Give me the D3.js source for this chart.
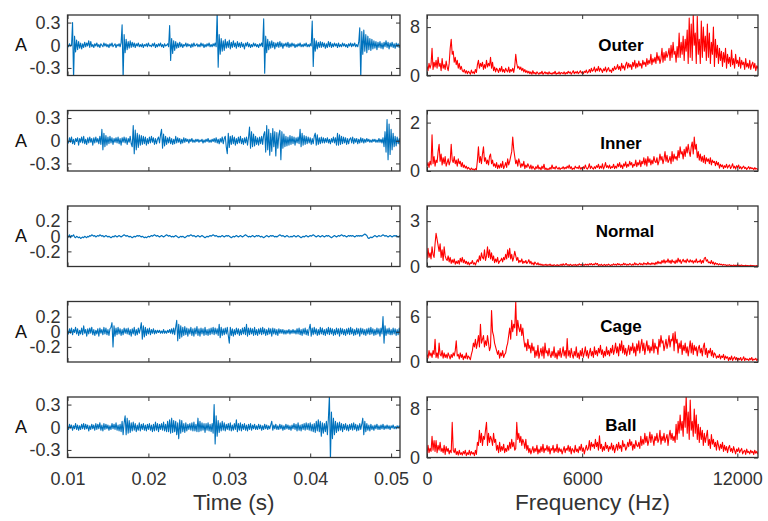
<!DOCTYPE html>
<html><head><meta charset="utf-8">
<script src="https://cdn.jsdelivr.net/npm/d3@7"></script>
<style>
body{margin:0;background:#fff}
svg{display:block;font-family:"Liberation Sans",Arial,Helvetica,sans-serif}
</style></head><body>
<svg id="fig" width="768" height="521"></svg>
<script>
// Bearing vibration: waveform (left) and amplitude spectrum (right) per condition
const conditions = ["Outer", "Inner", "Normal", "Cage", "Ball"];
const t0 = 0.01, dt = 0.000125;  // waveform sample start / spacing (s)
const df = 39;                   // spectrum bin spacing (Hz)

// waveforms, in units of 0.01
const outerWave = [1,-2,2,-1,0,30,-45,12,-9,7, -6,5,-4,3,-5,2,-3,4,-2,3, -1,6,-3,5,-2,1,-3,2,-1,3,
 -2,1,-3,2,0,-2,3,-1,2,-2, 1,-3,2,-1,3,-2,0,2,-3,1, -1,2,-2,3,27,-45,14,-10,8,-6, 5,-4,6,-3,4,-2,3,-3,2,-1,
 3,-2,1,-2,2,-3,1,-1,2,-2, 3,-1,0,-2,2,-1,3,-3,1,-2, 2,-1,3,-2,1,-3,2,-1,0,2, -2,26,-20,9,-11,6,-7,5,-4,3,
 -3,4,-2,2,-3,1,-1,3,-2,2, -1,1,-3,2,-2,3,-1,0,2,-2, 1,-2,3,-1,2,-3,1,-2,2,-1, 3,-2,1,-2,2,-1,3,-2,44,-29,
 14,-12,9,-8,6,-7,8,-4,5,-3, 7,-5,4,-3,6,-2,3,-4,5,-2, 3,-3,4,-2,2,-5,3,-1,4,-2, 2,-3,1,-2,3,-1,2,-2,1,-3,
 2,-1,3,-2,35,-37,12,-10,8,-6, 5,-4,6,-3,4,-5,3,-2,4,-3, 5,-2,3,-4,2,-1,3,-2,4,-3, 2,-2,3,-1,2,-3,1,-2,2,-1,
 3,-2,1,-2,2,-1,3,-2,1,-2, 2,-1,32,-28,9,-8,6,-5,4,-3, 5,-3,4,-2,3,-4,2,-3,5,-2, 4,-3,2,-2,3,-1,2,-3,3,-2,
 1,-2,3,-1,2,-2,1,-3,2,-1, 3,-2,2,-1,3,-2,1,-2,4,23, -45,18,-12,20,-8,14,-10,12,-6,9, -7,8,-5,6,-4,5,-6,4,-3,5,
 -4,3,-5,4,-2,6,-3,4,-5,3, -2,4,-3,2,-4,3,-2,2,-3,1, 2,-2,1,-1,0];
const innerWave = [0,-3,4,-2,5,-4,2,-5,3,-1, 4,-6,3,-2,5,-3,6,-4,2,-5, 4,-3,5,-2,3,-6,4,-3,5,-2,
 3,-4,6,-5,15,-12,10,-8,7,-6, 5,-4,6,-3,4,-5,3,-2,4,-3, 5,-4,3,-6,4,-2,5,-3,4,-5, 3,-2,6,-4,-8,20,-17,14,-12,10,
 -9,8,-6,7,-5,6,-4,5,-6,3, -4,5,-3,6,-2,4,-5,3,-4,2, 5,-3,8,15,-10,9,-7,6,-5,4, -3,5,-4,3,-5,2,-4,6,-3,4,
 -2,3,-4,2,-3,4,-2,3,-1,2, -3,2,-1,3,-2,1,-2,2,-1,2, -2,1,-1,2,-3,1,-2,2,-1,3, -2,1,-2,2,-1,3,-2,4,-3,2,
 -4,3,-2,5,-4,3,6,-8,-17,10, -9,6,-5,7,-4,5,-6,3,-4,5, -3,6,-4,3,-5,4,-3,5,-6,4, 18,-10,12,-8,9,-7,6,-5,4,-6,
 5,-4,6,-5,8,12,-15,20,-12,15, -19,10,-14,16,-8,12,-20,11,-10,8, 14,-25,12,-10,9,-8,6,-7,5,-6, 7,-5,6,-4,5,-6,4,-3,5,-4,
 15,-8,10,-6,7,-5,6,-4,5,-3, 4,-5,3,-4,6,10,-6,8,-5,4, -4,5,-3,4,-3,3,-2,4,-3,2, -4,3,-2,5,-3,4,-6,10,-6,8,
 -5,6,-4,5,-3,4,-5,3,-4,2, 4,-3,5,-4,3,-2,3,-4,2,-3, 4,-2,3,-3,2,-2,3,-1,2,-2, 1,-2,2,-1,2,-2,1,-2,3,-2,
 2,-3,4,-8,12,-15,28,-25,22,-18, 15,-12,10,-8,6,-7,5,-4,3,-5, 4,-3,2,-2,1];
const normalWave = [1,-1,2,-2,1,0,2,-1,-2,0, -1,-2,-1,-3,-2,-1,-2,0,-1,-2, 0,-1,1,0,2,1,0,1,-1,0,
 1,0,2,1,0,1,-1,0,1,0, -1,0,-1,-2,-1,0,-1,1,0,-1, 0,1,0,-1,0,1,2,1,0,1, 0,-1,0,-1,-2,-1,0,-1,0,1,
 0,1,0,-1,0,-1,-2,-1,-2,-1, 0,-1,0,1,0,1,2,1,0,1, 0,-1,0,1,0,-1,0,1,2,1, 0,1,0,-1,0,-1,0,1,0,-1,
 -2,-1,0,-1,0,-1,-2,-1,0,1, 0,1,2,1,0,1,0,-1,0,1, 0,-1,0,1,0,-1,-2,-1,0,-1, 0,1,0,1,2,1,0,1,0,-1,
 0,-1,0,1,0,-1,0,1,0,1, 0,-1,-2,-1,0,-1,0,1,0,-1, 0,1,0,-1,0,1,2,1,0,-1, 0,-1,0,1,0,-1,0,1,0,1,
 0,-1,0,-1,-2,-1,0,1,0,-1, 0,1,0,1,0,-1,0,-1,0,1, 2,1,0,1,0,-1,0,1,0,-1, -1,0,-1,0,1,0,-1,0,1,0,
 -1,-2,-1,0,-1,0,1,0,-1,0, 1,0,1,2,1,0,-1,0,1,0, -1,0,1,0,-1,0,1,0,1,0, -1,-2,-1,0,1,0,-1,0,1,0,
 1,2,1,0,1,0,-1,0,1,0, 1,0,1,0,-1,0,1,0,1,0, 1,0,1,2,3,2,1,-2,-3,-2, -1,-2,-1,0,1,0,-1,0,1,0,
 0,1,2,1,0,1,0,-1,0,1, 0,-1,0,1,0,1,0,-1,0,1, 0,1,0,-1,0];
const cageWave = [2,-3,4,-2,5,-4,3,-1,6,-3, 4,-5,2,-3,5,-4,8,-2,3,-6, 4,-3,5,-2,6,-4,3,-5,2,-3,
 4,-6,5,-2,3,-4,6,-3,5,-4, 3,-5,4,6,12,-20,8,-6,5,-4, 6,-3,4,-5,3,-4,5,-2,4,-3, 5,-4,3,-6,4,-3,6,-5,3,-4,
 5,-2,4,12,-10,8,-7,6,-5,4, -3,5,-4,3,-2,4,-3,2,-2,2, -1,2,-2,1,-2,3,-2,1,-2,2, -1,3,-2,4,-3,5,-4,6,15,-12,
 10,-9,8,-7,6,-5,7,-4,5,-6, 4,-3,6,-5,4,-6,5,-3,7,-5, 4,-6,5,-3,4,-5,6,-4,3,-5, 4,-4,5,-3,6,-4,5,-3,4,-5,
 10,-8,6,-5,4,-4,5,-3,6,-5, -15,6,-5,4,-6,3,-4,5,-3,4, -5,3,-4,5,-3,6,-4,10,-6,5, -4,5,-3,4,-5,6,-4,3,-5,4,
 -3,5,-4,6,-3,4,-5,3,-4,5, -3,4,-6,5,-3,4,-4,3,-5,4, -2,3,-2,3,-3,2,-3,2,-2,3, -3,2,-2,3,-2,2,-3,4,-3,5,
 -4,3,-5,4,-3,5,-4,3,-5,4, 10,-6,5,-4,6,-3,4,-5,3,-4, 6,-3,5,-4,3,-5,4,-3,6,-4, 5,-3,4,-5,3,-4,5,-3,4,-6,
 5,-3,4,-4,3,-5,4,-3,5,-4, 6,-3,4,-5,3,-4,5,-3,4,-6, 5,-3,4,-4,3,-5,4,-3,5,-4, 6,-3,4,-5,3,-4,5,-3,4,-6,
 5,-3,20,-15,8,-5,4,-3,5,-4, 3,-4,5,-3,4,-5,3,-4,5,-3, 4,-3,2,-2,1];
const ballWave = [2,-3,4,-1,3,-4,2,-2,5,-3, 3,-4,2,-3,4,-2,5,-3,4,-2, 3,-5,2,-3,4,-2,3,-4,5,-3,
 4,-2,6,-4,3,-5,5,-3,4,-2, 3,-4,2,-3,5,-2,4,-3,6,-4, 3,-5,4,-6,8,-10,6,15,-10,12, -8,9,-7,6,-5,7,-4,5,-6,3,
 -4,6,-5,4,-3,5,-4,3,-5,4, -3,5,-4,3,-6,4,-5,7,-4,5, -6,4,-3,5,-4,7,-5,4,-6,8, -6,10,-8,12,-7,9,-6,8,-10,6,
 -15,10,-8,9,-6,5,-7,6,-5,4, -3,5,-4,6,-5,7,-5,4,-6,12, -6,8,-5,6,-4,5,-7,5,-4,6, -5,4,-6,5,-8,30,-22,15,-12,9,
 -7,6,-5,8,-4,6,-5,4,-3,5, -4,6,-5,3,-4,5,-3,10,-6,5, -4,6,-5,4,-3,5,-4,3,-5,4, -3,5,-4,3,-2,4,-3,2,-3,4,
 -2,3,-4,2,-3,4,-2,3,-3,2, -2,3,8,-4,3,-2,4,-3,2,-3, 4,-2,3,-4,2,-3,4,-2,3,-3, 2,-4,3,-2,5,-3,4,-5,6,-4,
 3,-5,4,-3,5,-4,6,-3,5,-4, 6,-5,4,-6,5,-7,8,-5,10,-6, 8,-12,6,-8,5,-6,8,-10,12,42, -45,20,-15,12,-10,8,-7,6,-5,7,
 -4,5,-6,4,-3,5,-4,3,-5,4, -3,5,-4,6,-3,4,-5,3,-4,5, -3,4,12,-10,8,-6,5,-4,3,-5, 4,-3,2,-4,3,-2,4,-3,2,-3,
 3,-2,4,-3,2,-2,3,-2,2,-3, 2,-1,3,-2,1,-2,2,-1,2,-1, 1,-1,1,0,0];

// amplitude spectra
const outerSpec = [15,8,20,12,18,45,10,22,14,25, 12,30,15,20,8,28,12,18,10,24, 14,8,20,45,60,35,40,22,30,18,
 25,12,20,10,15,8,6,10,4,8, 3,7,5,2,9,4,6,3,10,5, 18,25,12,20,15,22,10,18,12,25, 14,20,16,30,12,22,8,14,6,12,
 9,5,12,7,15,6,10,5,12,8, 6,14,5,10,7,12,5,15,35,20, 12,15,10,14,8,12,6,10,5,8, 4,7,3,6,2,8,3,5,2,6,
 4,2,5,3,7,2,4,6,3,5, 2,6,3,4,2,5,3,7,2,4, 3,6,2,5,4,3,6,2,5,3, 7,4,6,2,5,8,3,6,4,7,
 3,5,8,4,6,3,7,5,9,4, 6,10,5,12,7,9,14,6,11,8, 15,7,12,9,5,11,8,14,6,10, 13,7,9,5,12,8,15,10,12,18,
 10,15,8,20,12,16,9,18,22,12, 20,14,18,10,22,15,25,12,20,14, 24,16,20,12,25,18,22,15,28,18, 25,20,35,18,28,22,30,20,38,25,
 32,20,28,45,22,38,25,40,30,35, 45,25,50,30,55,35,40,22,48,30, 70,30,55,35,65,25,60,40,75,20, 95,30,85,25,100,50,70,20,98,35,
 60,20,90,30,80,40,65,25,85,30, 70,20,55,35,80,15,60,30,50,20, 45,25,40,15,38,22,45,12,35,20, 30,15,42,18,28,12,35,20,25,15,
 30,12,25,18,22,10,28,14,20,12, 25,10,18,22,12,20,8,16,12,18, 10,15,8,12,10]; // units of 0.1
const innerSpec = [20,35,15,40,25,150,30,60,20,45, 35,80,110,40,70,25,55,30,60,20, 35,50,25,40,110,45,35,60,30,45,
 20,50,30,40,18,35,15,25,12,20, 8,15,10,5,12,6,8,4,10,5, 45,100,35,60,30,70,100,40,55,30, 45,25,60,70,30,45,20,30,15,35,
 10,25,12,30,15,40,10,20,35,15, 50,25,40,60,80,140,90,60,30,45, 20,50,35,15,30,20,40,10,25,15, 30,20,10,25,8,20,12,6,18,10,
 25,8,15,5,20,10,28,6,12,5, 10,6,14,8,25,10,15,8,20,12, 8,15,6,12,10,18,8,15,10,20, 12,25,10,18,6,12,8,20,12,15,
 10,22,8,14,6,18,10,25,12,8, 15,30,10,20,12,8,18,10,22,15, 28,10,20,12,30,8,18,35,15,22, 12,25,10,18,14,28,10,20,12,30,
 18,35,15,25,10,30,20,38,15,28, 20,40,25,35,15,28,22,45,18,35, 25,45,18,40,30,55,25,50,20,60, 35,50,25,45,30,60,40,35,55,25,
 40,70,45,60,30,50,80,40,65,35, 45,60,30,80,40,70,50,60,45,85, 55,100,70,80,50,90,60,100,75,110, 80,60,100,120,70,140,90,110,55,80,
 45,70,40,60,35,65,30,55,40,50, 30,55,25,45,35,40,22,40,25,35, 12,28,18,25,10,22,15,28,12,20, 25,10,18,30,12,20,8,22,15,25,
 10,18,8,15,20,10,15,6,12,18, 8,15,10,12,5,14,8,10,6,12, 5,10,6,8,5]; // units of 0.01
const normalSpec = [50,120,60,90,50,130,80,60,150,220, 180,140,100,150,60,110,40,130,70,50, 40,70,30,60,20,45,25,50,15,35,
 20,40,15,55,30,60,25,45,20,35, 15,30,10,25,20,40,15,25,10,30, 45,30,70,40,90,60,50,110,40,70, 130,60,110,50,90,40,70,25,50,30,
 60,20,35,40,55,30,60,45,80,50, 110,60,120,50,80,35,60,100,70,40, 60,25,40,30,50,20,35,25,40,20, 30,45,20,35,15,25,10,30,20,12,
 25,10,18,8,15,6,12,8,15,5, 12,8,16,6,10,4,12,8,6,12, 5,10,8,15,6,18,8,12,20,8, 12,6,15,10,5,12,8,14,6,12,
 8,18,10,14,6,12,8,16,10,15, 8,18,12,20,10,16,12,22,14,20, 6,12,8,15,5,10,14,6,12,8, 16,10,6,12,8,18,10,15,8,20,
 12,16,8,14,10,22,12,18,8,15, 10,20,14,8,16,10,25,12,18,10, 15,22,12,18,10,25,15,20,12,28, 14,20,12,25,15,22,12,28,16,35,
 20,30,18,40,25,45,22,38,28,50, 25,40,20,45,28,35,20,42,25,55, 30,45,20,35,48,30,40,25,50,35, 28,45,30,40,22,38,28,50,25,35,
 30,45,20,40,25,55,60,35,45,25, 30,20,40,18,30,12,25,15,20,10, 18,12,15,8,14,10,12,6,10,8, 12,5,8,4,10,6,8,5,12,4,
 8,6,10,4,7,5,8,3,6,4, 5,8,3,6,4,5,3,6,2,5, 4,3,5,2,4]; // units of 0.01
const cageSpec = [10,5,15,8,12,6,15,10,30,6, 12,5,25,10,8,15,5,12,6,10, 5,12,8,4,10,6,12,8,15,28,
 8,10,4,12,6,10,3,8,5,12, 4,8,6,3,10,15,25,20,30,18, 25,35,20,50,25,30,35,20,28,22, 35,25,15,20,68,40,35,25,20,15,
 10,15,5,12,8,15,6,10,12,20, 25,35,45,30,55,40,50,45,80,35, 55,45,40,50,35,45,30,20,25,15, 30,18,22,12,25,15,20,6,15,8,
 22,5,12,18,8,20,5,25,12,15, 8,18,10,6,14,8,20,6,12,4, 15,8,18,6,12,20,8,15,5,31, 8,15,6,18,10,5,14,8,20,6,
 12,4,15,8,18,6,12,20,8,15, 5,12,18,8,14,6,20,10,15,8, 18,12,22,10,16,6,14,8,20,10, 15,8,18,12,22,10,16,25,12,20,
 8,24,15,28,12,22,10,18,8,15, 22,10,20,15,25,12,20,8,24,15, 28,12,22,30,15,25,10,20,28,15, 22,12,20,15,30,12,25,18,20,10,
 30,20,35,25,28,15,22,30,18,25, 35,20,30,28,38,15,40,25,30,12, 25,18,28,10,22,15,25,12,20,8, 18,28,12,25,10,22,15,20,8,18,
 22,12,18,8,20,25,10,18,6,15, 12,18,8,15,6,12,10,5,8,6, 10,4,8,6,10,3,8,5,7,2, 6,3,8,2,5,7,3,6,2,5,
 3,6,2,4,7,2,5,3,4,2, 5,3,6,2,4,3,5,2,4,3, 2,5,3,4,2]; // units of 0.1
const ballSpec = [5,20,8,15,10,35,12,28,10,28, 8,20,12,25,10,15,8,20,5,18, 10,15,6,12,8,58,12,8,15,5,
 10,4,12,5,8,4,10,6,12,3, 8,5,12,4,10,6,8,3,12,5, 25,20,45,25,40,20,35,30,45,58, 20,40,25,35,30,20,40,25,30,12,
 20,8,25,10,18,12,22,8,15,10, 20,12,25,15,30,18,25,12,15,58, 30,40,25,35,20,30,25,15,30,12, 20,8,15,6,12,18,8,15,10,20,
 6,14,8,18,10,22,8,15,12,20, 10,18,6,15,12,20,8,15,10,22, 8,16,10,14,6,12,18,8,15,12, 20,10,18,6,15,12,8,20,10,14,
 8,18,12,22,10,16,6,14,20,12, 15,28,12,25,18,22,15,30,18,25, 12,36,15,22,10,18,12,25,15,20, 10,18,14,24,12,20,8,15,22,12,
 25,15,20,10,28,18,22,12,16,25, 18,30,20,26,12,22,15,28,20,18, 25,15,35,20,30,22,40,25,35,20, 28,42,25,38,30,20,35,28,40,25,
 30,45,22,35,28,40,25,32,38,20, 35,45,30,40,28,35,25,55,30,60, 40,70,45,60,35,85,50,102,40,75, 30,95,45,60,35,80,40,70,30,55,
 25,50,30,45,20,40,25,35,45,20, 30,15,38,22,30,18,25,12,28,20, 12,22,15,25,10,20,12,18,8,16, 20,10,15,8,18,12,6,14,10,16,
 8,12,15,6,10,12,5,14,8,10, 6,12,8,10,5,12,7,10,6,8, 10,6,8,5,7]; // units of 0.1

const waves = [outerWave, innerWave, normalWave, cageWave, ballWave];
const waveUnit = 0.01;
const spectra = [outerSpec, innerSpec, normalSpec, cageSpec, ballSpec];
const specUnit = [0.1, 0.01, 0.01, 0.1, 0.1];

const waveDomain = [-0.4, 0.4];
const waveTicks = [[-0.3, 0, 0.3], [-0.3, 0, 0.3], [-0.2, 0, 0.2], [-0.2, 0, 0.2], [-0.3, 0, 0.3]];
const specMax = [10, 2.5, 4, 8, 10];
const specTicks = [[0, 8], [0, 2], [0, 3], [0, 6], [0, 8]];
const timeDomain = [0.01, 0.0511];
const timeTicks = [0.01, 0.02, 0.03, 0.04, 0.05];
const freqDomain = [0, 12800];
const freqTicks = [0, 6000, 12000];

// ---- layout ----
const svg = d3.select("#fig");
const LX0 = 67.5, LX1 = 400, RX0 = 427, RX1 = 758;
const TOP0 = 15, STEP = 95.5, PH = 60.5;
const labelDy = [30, 33, 25.5, 24.5, 28];
const INK = "#333", TICKLEN = 4, FS = 18;

const xT = d3.scaleLinear().domain(timeDomain).range([LX0, LX1]);
const xF = d3.scaleLinear().domain(freqDomain).range([RX0, RX1]);

const defs = svg.append("defs");
const fmt = d => String(d);

function styleAxis(g, showLabels) {
  g.select(".domain").remove();
  g.selectAll(".tick line").attr("stroke", INK).attr("stroke-width", 1);
  g.selectAll(".tick text").attr("fill", INK).attr("font-size", FS).attr("font-family", null);
  if (!showLabels) g.selectAll(".tick text").remove();
}

function panel(row, side) {
  const top = TOP0 + row * STEP, bot = top + PH;
  const left = side === 0;
  const x = left ? xT : xF;
  const x0 = left ? LX0 : RX0, x1 = left ? LX1 : RX1;
  const y = left
    ? d3.scaleLinear().domain(waveDomain).range([bot, top])
    : d3.scaleLinear().domain([0, specMax[row]]).range([bot, top]);
  const yt = left ? waveTicks[row] : specTicks[row];
  const xt = left ? timeTicks : freqTicks;
  const g = svg.append("g");

  const cid = `clip-${row}-${side}`;
  defs.append("clipPath").attr("id", cid).append("rect")
    .attr("x", x0).attr("y", top).attr("width", x1 - x0).attr("height", PH);

  // signal trace
  const vals = left ? waves[row] : spectra[row];
  const unit = left ? waveUnit : specUnit[row];
  const pts = vals.map((v, i) => [left ? t0 + i * dt : i * df, v * unit]);
  g.append("path")
    .attr("clip-path", `url(#${cid})`)
    .attr("d", d3.line().x(d => x(d[0])).y(d => y(d[1]))(pts))
    .attr("fill", "none")
    .attr("stroke", left ? "#0072BD" : "#FF0000")
    .attr("stroke-width", left ? 1.1 : 1.1)
    .attr("stroke-linejoin", "round");

  // inward ticks on all four sides
  g.append("g").attr("transform", `translate(0,${bot})`)
    .call(d3.axisBottom(x).tickValues(xt).tickFormat(fmt).tickSize(-TICKLEN).tickPadding(15))
    .call(a => styleAxis(a, row === 4));
  g.append("g").attr("transform", `translate(0,${top})`)
    .call(d3.axisTop(x).tickValues(xt).tickSize(-TICKLEN))
    .call(a => styleAxis(a, false));
  g.append("g").attr("transform", `translate(${x0},0)`)
    .call(d3.axisLeft(y).tickValues(yt).tickFormat(fmt).tickSize(-TICKLEN).tickPadding(7))
    .call(a => styleAxis(a, true));
  g.append("g").attr("transform", `translate(${x1},0)`)
    .call(d3.axisRight(y).tickValues(yt).tickSize(-TICKLEN))
    .call(a => styleAxis(a, false));

  // frame
  g.append("rect").attr("x", x0).attr("y", top).attr("width", x1 - x0).attr("height", PH)
    .attr("fill", "none").attr("stroke", INK).attr("stroke-width", 1.3);

  if (left) {
    g.append("text").attr("x", 21).attr("y", y(0)).attr("dy", "0.32em")
      .attr("text-anchor", "middle").attr("font-size", FS).attr("fill", "#111").text("A");
  } else {
    g.append("text").attr("x", xF(7500) + (row === 2 ? 4 : 0)).attr("y", top + labelDy[row])
      .attr("dominant-baseline", "central").attr("text-anchor", "middle")
      .attr("font-size", 17).attr("font-weight", "bold").attr("fill", "#000")
      .text(conditions[row]);
  }
}

for (let r = 0; r < conditions.length; r++) { panel(r, 0); panel(r, 1); }

svg.append("text").attr("x", (LX0 + LX1) / 2).attr("y", 510).attr("text-anchor", "middle")
  .attr("font-size", 22.5).attr("fill", INK).text("Time (s)");
svg.append("text").attr("x", (RX0 + RX1) / 2).attr("y", 510).attr("text-anchor", "middle")
  .attr("font-size", 22.5).attr("fill", INK).text("Frequency (Hz)");
</script>
</body></html>
